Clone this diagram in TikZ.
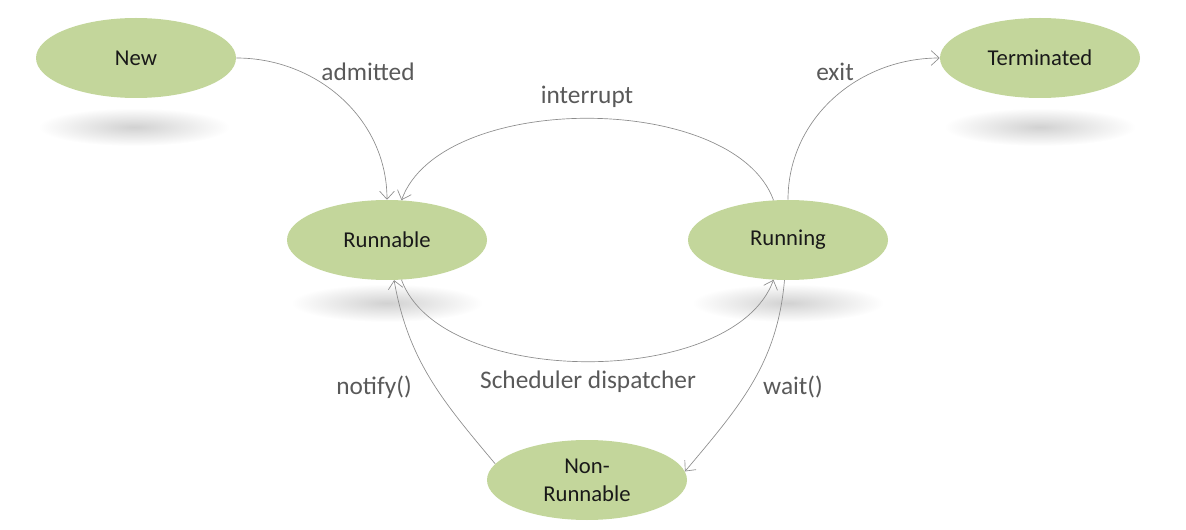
\documentclass[tikz,border=0pt]{standalone}
\usepackage{fontspec}
\setmainfont{Carlito}
\usetikzlibrary{shapes,arrows.meta}
\definecolor{stategreen}{HTML}{C3D69B}
\definecolor{labelgray}{HTML}{595959}
\definecolor{linegray}{HTML}{8C8C8C}
\begin{document}
\begin{tikzpicture}[x=0.75pt,y=0.75pt,
      state/.style={ellipse,fill=stategreen,minimum width=150pt,minimum height=60pt,
        inner sep=0pt,align=center,text=black!90,font=\fontsize{17}{21}\selectfont},
      lbl/.style={text=labelgray,font=\fontsize{19}{22}\selectfont},
      trans/.style={draw=linegray,line width=0.5pt,-{Straight Barb[length=6pt,width=11pt]}},
      shadow/.style={inner color=black!18,outer color=white}]
    \useasboundingbox (0,0) rectangle (1186,529);

    \shade[shadow] (134,402) ellipse [x radius=96,y radius=19];
    \shade[shadow] (1040,402) ellipse [x radius=96,y radius=19];
    \shade[shadow] (387,226) ellipse [x radius=96,y radius=19];
    \shade[shadow] (788,226) ellipse [x radius=96,y radius=19];

    \node[state] (new) at (136,471) {New};
    \node[state] (terminated) at (1040,471) {Terminated};
    \node[state] (runnable) at (387,289) {Runnable};
    \node[state] (running) at (788,289) {Running};
    \node[state] (nonrunnable) at (587,49) {Non-\\Runnable};

    \draw[trans] (new) to[out=0,in=90] (runnable);
    \draw[trans] (running) to[out=110,in=70,looseness=0.8] (runnable);
    \draw[trans] (running) to[out=90,in=180] (terminated);
    \draw[trans] (runnable) to[out=-70,in=-110,looseness=0.8] (running);
    \draw[trans] (running.-95) to[out=-95,in=50] (nonrunnable.5);
    \draw[trans] (nonrunnable.170) to[out=130,in=-80] (runnable.-80);

    \node[lbl] (admitted) at (368,457) {admitted};
    \node[lbl] (interrupt) at (587,432) {interrupt};
    \node[lbl] (exit) at (835,457) {exit};
    \node[lbl] (dispatch) at (588,147) {Scheduler dispatcher};
    \node[lbl] (notify) at (374,142) {notify()};
    \node[lbl] (wait) at (793,142) {wait()};

\end{tikzpicture}
\end{document}
